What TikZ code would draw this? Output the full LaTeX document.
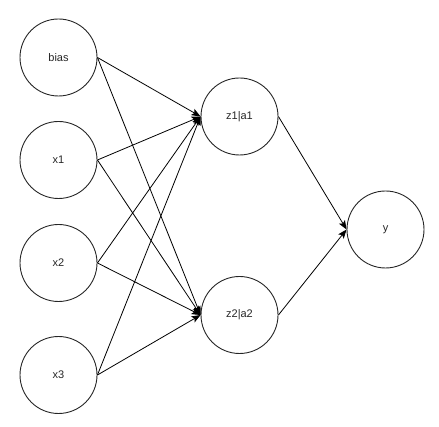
\documentclass[tikz,border=0pt]{standalone}
\usepackage{fontspec}
\setmainfont{Liberation Sans}
\usetikzlibrary{arrows.meta}
\begin{document}
\begin{tikzpicture}[x=1pt,y=-1pt,
  neuron/.style={draw=black!85,line width=0.9pt,circle,minimum size=77pt,inner sep=0pt,
    font=\fontsize{11}{13}\selectfont,text=black!85},
  conn/.style={draw=black,line width=0.8pt,-{Stealth[length=9pt,width=7pt,inset=2pt]}}]
\useasboundingbox (0,0) rectangle (439,427);
\node[neuron] (bias) at (58.5,57.5) {bias};
\node[neuron] (x1) at (58.5,160) {x1};
\node[neuron] (x2) at (58.5,263) {x2};
\node[neuron] (x3) at (58.5,375) {x3};
\node[neuron] (z1) at (239.5,116.5) {z1|a1};
\node[neuron] (z2) at (239.5,315) {z2|a2};
\node[neuron] (y) at (385.5,229.5) {y};
\foreach \s in {bias,x1,x2,x3}{
  \draw[conn] (\s.east) -- (z1.west);
  \draw[conn] (\s.east) -- (z2.west);
}
\draw[conn] (z1.east) -- (y.west);
\draw[conn] (z2.east) -- (y.west);
\end{tikzpicture}
\end{document}
